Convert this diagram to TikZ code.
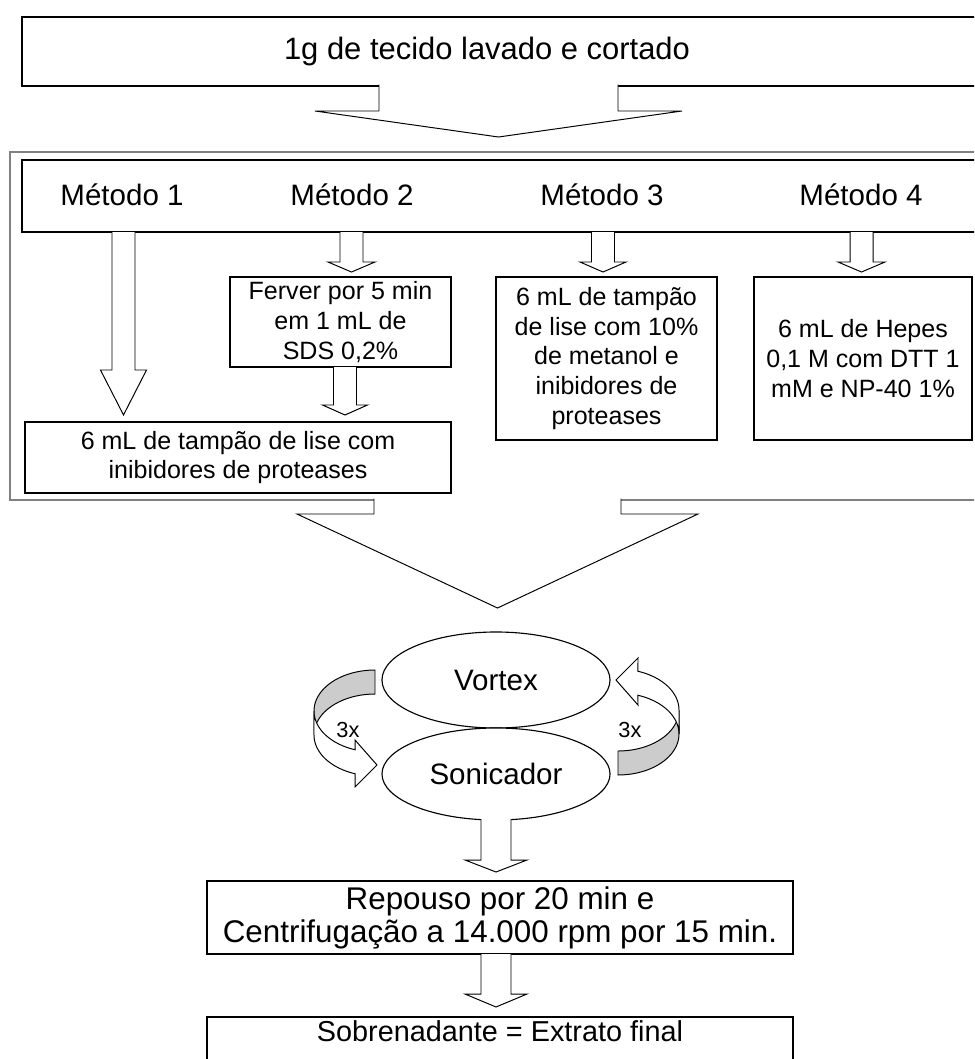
\documentclass[tikz,border=0pt]{standalone}
\usepackage{fontspec}
\setmainfont{Liberation Sans}
\usetikzlibrary{shapes.geometric}

\tikzset{
  caixa/.style={draw, line width=1.1pt, fill=white, inner sep=0pt},
  moldura/.style={draw=gray, line width=1pt},
  blk/.style={draw=black, fill=white, line width=0.7pt},
  fita/.style={draw=black, line width=0.7pt},
  elipse/.style={ellipse, draw, line width=0.8pt, fill=white, inner sep=0pt},
  grande/.style={font=\fontsize{21}{25}\selectfont},
  topo/.style={font=\fontsize{22}{26}\selectfont},
  pequeno/.style={font=\fontsize{17.8}{21.3}\selectfont},
  medio/.style={font=\fontsize{22.3}{23.4}\selectfont},
  final/.style={font=\fontsize{20.5}{24}\selectfont},
  vezes/.style={font=\fontsize{15.5}{18}\selectfont}
}

% seta de bloco para baixo: x, topo, base da ponta, ponta, meia haste, meia ponta
\newcommand{\seta}[6]{\filldraw[blk] (#1-#5,#2) -- (#1-#5,#3) -- (#1-#6,#3) -- (#1,#4) -- (#1+#6,#3) -- (#1+#5,#3) -- (#1+#5,#2);}

% seta curva da esquerda (a da direita e a mesma girada)
\newcommand{\volta}{%
  \filldraw[fita, fill=black!20] plot[domain=270:180] ({375+61*cos(\x)},{711+41*sin(\x)}) -- plot[domain=180:270] ({375+61*cos(\x)},{735+41*sin(\x)}) -- cycle;
  \filldraw[fita, fill=white] plot[domain=180:109.1] ({375+61*cos(\x)},{711+41*sin(\x)}) -- (355,740) -- (377,765) -- (355,787) -- plot[domain=109.1:180] ({375+61*cos(\x)},{735+41*sin(\x)}) -- cycle;
}

\begin{document}
\begin{tikzpicture}[x=0.025cm,y=-0.025cm]
\useasboundingbox (0,0) rectangle (974,1059);
\clip (0,0) rectangle (974,1059);

% amostra
\node[caixa, topo, minimum width=24.45cm, minimum height=1.725cm] (tecido) at (511,51.5) {1g de tecido lavado e cortado\hspace*{1.2cm}};
\seta{498.5}{84.5}{111}{137}{119.5}{183.5}

% metodos
\draw[moldura] (10,152) rectangle (1010,500);
\node[caixa, minimum width=24.45cm, minimum height=1.8cm] (metodos) at (511,196) {};
\node[grande] (m1) at (122,195) {Método 1};
\node[grande] (m2) at (352,195) {Método 2};
\node[grande] (m3) at (602,195) {Método 3};
\node[grande] (m4) at (861,195) {Método 4};

\seta{123.5}{232}{370}{415}{11.5}{23}
\seta{351.5}{232}{262}{272}{11.5}{23.5}
\seta{603}{232}{262}{272}{11.5}{23}
\seta{861.5}{232}{262}{272}{11.5}{23.5}

\node[caixa, pequeno, align=center, minimum width=5.525cm, minimum height=2.25cm] (ferver) at (340.5,322) {Ferver por 5 min\\em 1 mL de\\SDS 0,2\%};
\seta{345}{367}{405}{415}{11.5}{22.5}
\node[caixa, pequeno, align=center, minimum width=10.65cm, minimum height=1.775cm] (lise) at (238,457.5) {6 mL de tampão de lise com\\inibidores de proteases};
\node[caixa, pequeno, align=center, minimum width=5.525cm, minimum height=4.075cm] (tampao) at (606.5,358.5) {6 mL de tampão\\de lise com 10\%\\de metanol e\\inibidores de\\proteases};
\node[caixa, pequeno, align=center, minimum width=5.45cm, minimum height=4.075cm] (hepes) at (863,358.5) {6 mL de Hepes\\0,1 M com DTT 1\\mM e NP-40 1\%};

\seta{497.5}{498.5}{514}{608}{123.5}{200.5}

% ciclos
\node[elipse, grande, minimum width=5.7cm, minimum height=2.4cm] (vortex) at (496,680) {Vortex};
\node[elipse, grande, minimum width=5.7cm, minimum height=2.3cm] (sonicador) at (496,774) {Sonicador};
\volta
\begin{scope}[rotate around={180:(496.5,722.5)}]
\volta
\end{scope}
\node[vezes] (v1) at (348,730) {3x};
\node[vezes] (v2) at (630,730) {3x};

% final
\seta{496}{819}{860}{872}{15}{31}
\node[caixa, medio, align=center, minimum width=14.65cm, minimum height=1.825cm] (repouso) at (500,917.5) {Repouso por 20 min e\\Centrifugação a 14.000 rpm por 15 min.};
\seta{496}{954}{994}{1007}{15}{31}
\node[caixa, final, anchor=north, minimum width=14.65cm, text height=0.625cm, text depth=2cm] (extrato) at (500,1016) {Sobrenadante = Extrato final};
\end{tikzpicture}
\end{document}
